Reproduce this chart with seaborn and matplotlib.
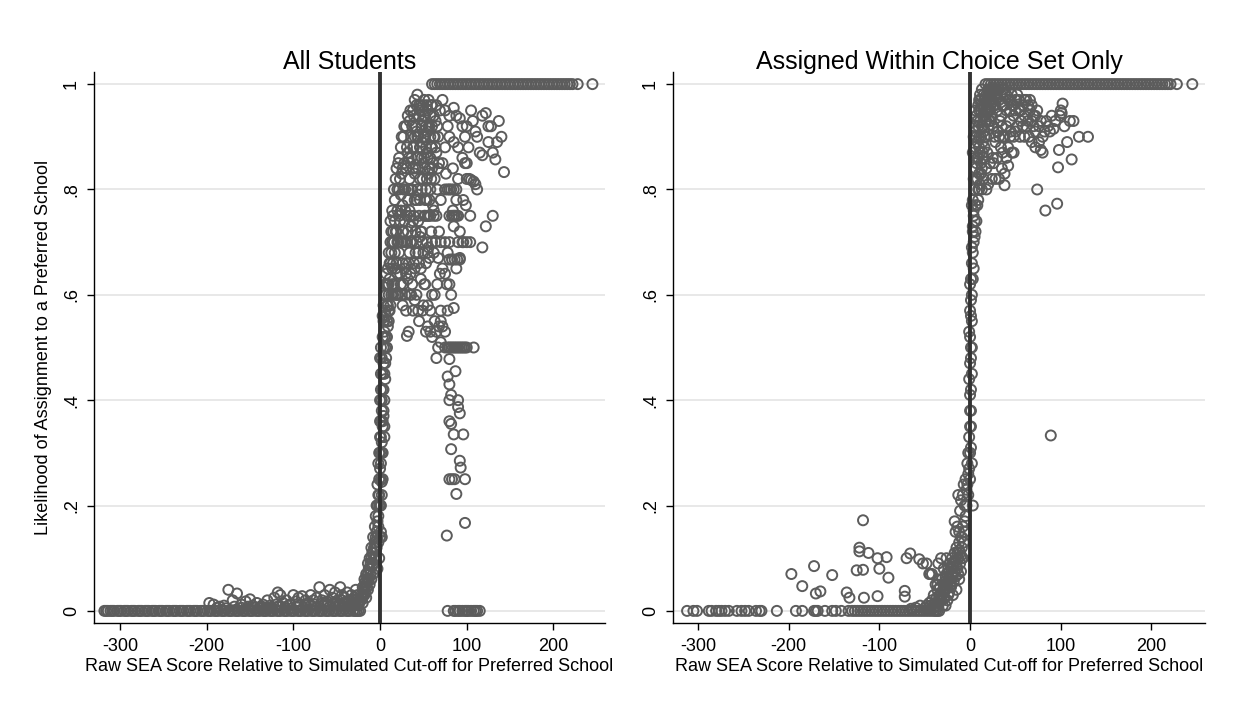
import matplotlib
matplotlib.use("Agg")
import matplotlib.pyplot as plt
import seaborn as sns
import pandas as pd

sns.set_style("white")
plt.rcParams["font.family"] = ["Liberation Sans", "DejaVu Sans"]
plt.rcParams["axes.unicode_minus"] = False
for k in ["text.color", "axes.labelcolor", "xtick.color", "ytick.color"]:
    plt.rcParams[k] = "black"

# ---------------- Left panel: All Students ----------------
L_zero_x = [-318, -314, -311, -307, -303, -299, -295, -291, -287, -283, -279, -275, -271, -267,
            -263, -259, -255, -251, -247, -243, -239, -235, -231, -227, -223, -219, -215, -211,
            -207, -203, -199, -195, -191, -187, -183, -179, -175, -171, -167, -163, -159, -155,
            -151, -147, -143, -139, -135, -131, -127, -123, -119, -115, -111, -107, -103, -99,
            -95, -91, -87, -83, -79, -75, -71, -67, -63, -59, -55, -51, -47, -43, -39, -35,
            -31, -27, -23,
            -316, -309, -301, -293, -285, -277, -269, -261, -253, -245, -237, -229, -221, -213,
            -205, -197, -189, -181, -173, -165, -157, -149, -141, -133, -125, -117, -109, -101,
            -93, -85, -77, -69, -61, -53, -45, -37, -29, -25]
L_low_x = [-197, -192, -185, -180, -175, -170, -165, -160, -155, -150, -147, -142, -138, -135,
           -130, -127, -122, -118, -115, -112, -108, -104, -100, -97, -94, -90, -86, -83, -80,
           -77, -73, -70, -67, -64, -61, -58, -55, -52, -49, -46, -44, -41, -38, -35, -33, -30,
           -28, -26, -24, -140, -132, -125, -118, -110, -102, -96, -88, -80, -72, -65, -58, -52,
           -46, -40, -36, -32, -28, -25, -22, -20, -18, -16,
           -30, -32, -34, -36, -38, -42, -44, -48, -54, -60, -66, -75, -85, -92, -106, -114,
           -120, -128, -136, -144, -152, -160, -168, -178, -188]
L_low_y = [0.015, 0.012, 0.008, 0.010, 0.040, 0.020, 0.033, 0.012, 0.018, 0.022, 0.010, 0.015,
           0.008, 0.012, 0.020, 0.010, 0.025, 0.035, 0.030, 0.015, 0.020, 0.012, 0.030, 0.018,
           0.025, 0.028, 0.020, 0.015, 0.030, 0.020, 0.025, 0.045, 0.020, 0.030, 0.018, 0.040,
           0.025, 0.035, 0.020, 0.045, 0.030, 0.025, 0.035, 0.020, 0.030, 0.025, 0.040, 0.030,
           0.020, 0.005, 0.004, 0.006, 0.008, 0.006, 0.005, 0.008, 0.006, 0.010, 0.008, 0.010,
           0.008, 0.012, 0.010, 0.012, 0.010, 0.015, 0.012, 0.015, 0.020, 0.015, 0.030, 0.025,
           0.015, 0.020, 0.012, 0.018, 0.008, 0.015, 0.020, 0.012, 0.015, 0.012, 0.015, 0.012,
           0.010, 0.012, 0.010, 0.008, 0.012, 0.006, 0.008, 0.006, 0.008, 0.006, 0.008, 0.005,
           0.006]
L_rise_x = [-20, -18, -16, -15, -14, -13, -12, -11, -10, -9, -8, -7, -6, -6, -5, -4, -4, -3, -3,
            -2, -2, -1, -1, 0, 0, 1, 1, 1, 2, 2, 2, 3, 3, 3, 4, 4, 4, 5, 5, 5, 6, 6, 7, 7, 8, 8, 9,
            9, 10, 10, 11, 11, 12, 12, 13, 13, 14, 14, 15, 15, -5, -3, -8, -10, -12, -14, 1, 2,
            0, 3, 2, 4, 5, -1, -2, 0, 0, 1, 6, 7, 8, 5, 3, 5,
            -25, -24, -23, -22, -21, -20, -19, -18, -17, -17, -16, -15, -14, -13, -12, -11, -10,
            -9, -8, -8, -7, -6, -5, -5, -4, -3, -3, -2, -2, -1, -1, 0, 0, 0, 1, 1, 1, 1, 2, 2, 2,
            3, 3, 3, 4, 4, 4, 5, 5, 6, 6, 7, 7, 8, 8, 9, 9, 10, 10]
L_rise_y = [0.03, 0.045, 0.05, 0.06, 0.07, 0.06, 0.08, 0.09, 0.10, 0.085, 0.11, 0.12, 0.13, 0.10,
            0.14, 0.15, 0.12, 0.17, 0.20, 0.18, 0.22, 0.25, 0.20, 0.27, 0.30, 0.25, 0.33, 0.36,
            0.30, 0.38, 0.40, 0.35, 0.42, 0.45, 0.38, 0.47, 0.50, 0.45, 0.52, 0.55, 0.50, 0.57,
            0.52, 0.60, 0.55, 0.62, 0.58, 0.65, 0.60, 0.68, 0.57, 0.63, 0.66, 0.70, 0.60, 0.72,
            0.65, 0.70, 0.60, 0.75, 0.10, 0.08, 0.07, 0.06, 0.05, 0.04, 0.15, 0.14, 0.20, 0.25,
            0.245, 0.37, 0.35, 0.10, 0.13, 0.40, 0.48, 0.50, 0.47, 0.48, 0.50, 0.33, 0.36, 0.53,
            0.010, 0.015, 0.020, 0.030, 0.025, 0.045, 0.040, 0.060, 0.035, 0.055, 0.070, 0.045,
            0.090, 0.080, 0.100, 0.070, 0.120, 0.110, 0.090, 0.140, 0.100, 0.160, 0.120, 0.180,
            0.200, 0.140, 0.240, 0.160, 0.280, 0.300, 0.220, 0.330, 0.360, 0.140, 0.200, 0.280,
            0.420, 0.450, 0.220, 0.320, 0.480, 0.300, 0.520, 0.560, 0.420, 0.550, 0.580, 0.400,
            0.600, 0.440, 0.620, 0.560, 0.640, 0.520, 0.580, 0.540, 0.620, 0.550, 0.570]
L_cloud_x = [16, 17, 18, 18, 19, 20, 20, 21, 22, 22, 23, 24, 24, 25, 25, 26, 26, 27, 27, 28, 28,
             29, 30, 30, 30, 31, 32, 32, 33, 33, 34, 34, 35, 35, 36, 36, 37, 37, 38, 38, 39, 39,
             40, 40, 41, 41, 42, 42, 43, 43, 44, 44, 45, 45, 46, 46, 47, 47, 48, 48, 49, 49, 50,
             50, 51, 51, 52, 52, 53, 53, 54, 54, 55, 55, 56, 56, 57, 57, 58, 58, 59, 59, 60, 60,
             61, 61, 62, 62, 63, 63, 64, 64, 65, 65, 66, 66, 67, 67, 68, 68, 69, 69, 70, 70,
             35, 40, 45, 50, 55, 60, 42, 48, 52, 58, 38, 44, 54, 62, 46, 56, 36, 32, 28, 24, 20,
             26, 30, 34, 40, 44, 50, 55, 60, 65, 58, 63, 47, 53, 31,
             10, 11, 12, 12, 13, 14, 14, 15, 15, 16, 16, 17, 17, 18, 18, 19, 19, 20, 20, 21, 21,
             22, 22, 23, 23, 24, 24, 25, 25, 26, 26, 27, 27, 28, 28, 29, 29, 30, 30, 31, 31, 32,
             32, 33, 33, 34, 34, 35, 35, 36, 36, 37, 37, 38, 38, 39, 39, 40, 40, 41, 41, 42, 42,
             43, 43, 44, 44, 45, 45, 46, 46, 47, 47, 48, 48, 49, 49, 50, 50, 51, 51, 52, 52, 53,
             53, 54, 54, 55, 55, 56, 56, 57, 57, 58, 58, 59, 59, 60, 60, 62, 64, 66, 63, 65, 67]
L_cloud_y = [0.70, 0.78, 0.65, 0.82, 0.72, 0.60, 0.76, 0.85, 0.68, 0.80, 0.74, 0.62, 0.88, 0.70,
             0.83, 0.58, 0.77, 0.90, 0.72, 0.65, 0.85, 0.80, 0.57, 0.70, 0.92, 0.75, 0.87, 0.63,
             0.80, 0.53, 0.68, 0.93, 0.75, 0.85, 0.60, 0.90, 0.70, 0.80, 0.57, 0.95, 0.75, 0.88,
             0.65, 0.83, 0.92, 0.72, 0.60, 0.78, 0.86, 0.98, 0.68, 0.90, 0.55, 0.75, 0.82, 0.95,
             0.63, 0.88, 0.72, 0.80, 0.93, 0.57, 0.68, 0.85, 0.75, 0.97, 0.62, 0.90, 0.80, 0.53,
             0.70, 0.87, 0.58, 0.95, 0.75, 0.83, 0.67, 0.92, 0.53, 0.80, 0.88, 0.72, 0.60, 0.96,
             0.77, 0.85, 0.68, 0.90, 0.55, 0.82, 0.93, 0.70, 0.75, 0.87, 0.62, 0.80, 0.90, 0.50,
             0.72, 0.85, 0.64, 0.95, 0.78, 0.55,
             0.95, 0.97, 0.96, 0.94, 0.91, 0.92, 0.91, 0.89, 0.84, 0.86, 0.84, 0.79, 0.78, 0.76,
             0.71, 0.69, 0.73, 0.78, 0.74, 0.79, 0.70, 0.66, 0.64, 0.60, 0.59, 0.57, 0.58, 0.54,
             0.52, 0.53, 0.57, 0.60, 0.65, 0.66, 0.522,
             0.62, 0.66, 0.58, 0.74, 0.68, 0.62, 0.76, 0.66, 0.72, 0.62, 0.80, 0.68, 0.74, 0.60,
             0.72, 0.66, 0.84, 0.64, 0.80, 0.70, 0.60, 0.75, 0.86, 0.64, 0.82, 0.70, 0.76, 0.60,
             0.90, 0.72, 0.84, 0.62, 0.80, 0.70, 0.92, 0.60, 0.76, 0.84, 0.66, 0.88, 0.70, 0.94,
             0.72, 0.66, 0.86, 0.76, 0.82, 0.64, 0.70, 0.80, 0.86, 0.92, 0.62, 0.74, 0.88, 0.66,
             0.94, 0.78, 0.90, 0.84, 0.68, 0.96, 0.70, 0.80, 0.90, 0.74, 0.84, 0.94, 0.66, 0.88,
             0.78, 0.96, 0.72, 0.92, 0.86, 0.82, 0.70, 0.90, 0.96, 0.86, 0.62, 0.94, 0.78, 0.88,
             0.92, 0.96, 0.82, 0.86, 0.68, 0.92, 0.97, 0.84, 0.78, 0.94, 0.90, 0.96, 0.82, 0.88,
             0.84, 0.94, 0.88, 0.92, 0.90, 0.96, 0.84]
L_streak_x = [52, 55, 58, 62, 80, 83, 85, 86, 88, 90, 60, 70, 75, 80, 90, 95, 100, 80, 83, 86,
              89, 92, 75, 78, 80, 82, 85, 88, 75, 78, 80, 82, 84, 86, 88, 90, 92, 94, 96, 98, 100,
              108, 100, 103, 105, 108, 110, 112]
L_streak_y = [0.75, 0.75, 0.75, 0.75, 0.75, 0.75, 0.75, 0.75, 0.75, 0.75, 0.70, 0.70, 0.70, 0.70,
              0.70, 0.70, 0.70, 0.667, 0.667, 0.667, 0.667, 0.667, 0.80, 0.80, 0.80, 0.80, 0.80,
              0.80, 0.50, 0.50, 0.50, 0.50, 0.50, 0.50, 0.50, 0.50, 0.50, 0.50, 0.50, 0.50, 0.50,
              0.50, 0.82, 0.82, 0.818, 0.815, 0.81, 0.80]
L_scat_x = [72, 75, 78, 80, 85, 88, 92, 95, 98, 100, 102, 105, 107, 110, 112, 118, 122, 125, 128,
            137, 135, 140, 130, 115, 118, 133, 125, 143, 100, 95, 90, 85, 80, 75, 72, 76, 84, 90,
            96, 99, 98, 88, 84, 92, 96, 104, 104, 118, 122, 130, 85, 78, 88, 92, 80, 75, 82, 85,
            78, 70, 72, 68, 75, 65, 70, 67, 72, 77,
            80, 78, 87, 80, 82, 80, 90, 92, 90, 80, 82, 85, 96, 82, 92, 93, 80, 83, 86, 98, 88,
            98, 77]
L_scat_y = [0.97, 0.95, 0.92, 0.94, 0.955, 0.94, 0.935, 0.92, 0.90, 0.92, 0.88, 0.95, 0.93, 0.91,
            0.90, 0.94, 0.945, 0.92, 0.92, 0.93, 0.89, 0.90, 0.87, 0.87, 0.865, 0.857, 0.89,
            0.833, 0.85, 0.86, 0.88, 0.89, 0.90, 0.88, 0.85, 0.83, 0.84, 0.82, 0.78, 0.77, 0.85,
            0.78, 0.76, 0.72, 0.70, 0.75, 0.70, 0.69, 0.73, 0.75, 0.73, 0.68, 0.65, 0.67, 0.62,
            0.64, 0.60, 0.575, 0.57, 0.57, 0.54, 0.54, 0.53, 0.48, 0.51, 0.67, 0.65, 0.62,
            0.478, 0.445, 0.455, 0.43, 0.41, 0.40, 0.40, 0.375, 0.387, 0.36, 0.355, 0.335, 0.335,
            0.307, 0.285, 0.272, 0.25, 0.25, 0.25, 0.25, 0.222, 0.167, 0.143]
L_zero_right_x = [78, 85, 87, 90, 92, 95, 98, 100, 102, 105, 108, 110, 112, 115]
L_one_x = [60, 63, 66, 69, 72, 75, 78, 81, 84, 87, 90, 93, 96, 99, 102, 105, 108, 111, 114, 117,
           120, 123, 126, 129, 132, 135, 138, 141, 144, 147, 150, 153, 156, 159, 162, 165, 168,
           171, 174, 177, 180, 183, 186, 189, 192, 195, 198, 201, 204, 207, 210, 213, 216, 219,
           222, 228, 245]

# ---------------- Right panel: Assigned Within Choice Set Only ----------------
R_zero_x = [-312, -305, -301, -288, -285, -280, -277, -274, -270, -266, -257, -252, -248, -244,
            -236, -232, -230, -213, -192, -185, -172, -170, -168, -160, -152, -148, -142, -134,
            -130, -127, -124, -121, -118, -115, -112, -109, -106, -103, -100, -97, -94, -91, -88,
            -85, -82, -79, -76, -73, -70, -67, -64, -61, -58, -55, -52, -49, -46, -43, -40,
            -38, -36, -34]
R_out_x = [-197, -185, -172, -170, -165, -152, -136, -133, -125, -122, -122, -118, -118, -117,
           -112, -102, -102, -100, -92, -90, -72, -72, -70, -66, -56, -52, -48, -45]
R_out_y = [0.070, 0.047, 0.085, 0.033, 0.037, 0.068, 0.035, 0.025, 0.077, 0.120, 0.113, 0.172,
           0.078, 0.025, 0.110, 0.100, 0.028, 0.080, 0.102, 0.063, 0.038, 0.027, 0.100, 0.109,
           0.098, 0.090, 0.090, 0.070]
R_band_x = [-40, -38, -36, -35, -33, -32, -30, -30, -28, -28, -27, -26, -25, -25, -24, -23, -22,
            -22, -21, -20, -20, -19, -18, -18, -17, -16, -16, -15, -15, -14, -13, -12, -12, -11,
            -10, -10, -9, -8, -42, -44, -38, -35, -32, -48, -45, -50, -55, -60, -65, -36, -34,
            -29, -26,
            -46, -44, -42, -40, -39, -37, -36, -34, -33, -31, -31, -29, -29, -27, -27, -26, -24,
            -24, -23, -21, -21, -19, -19, -17, -17, -15, -14, -13, -12, -11, -10, -9, -8, -7,
            -6, -5, -4, -3, -2, -1, 0, 0, 1, 1, 0, 2, 1, 0, 2, 1, 0, 2, 3, 4, 2, 6]
R_band_y = [0.005, 0.010, 0.015, 0.008, 0.020, 0.030, 0.010, 0.040, 0.025, 0.055, 0.040, 0.070,
            0.020, 0.050, 0.080, 0.035, 0.060, 0.090, 0.045, 0.100, 0.070, 0.030, 0.055, 0.085,
            0.110, 0.065, 0.095, 0.040, 0.120, 0.080, 0.100, 0.060, 0.115, 0.090, 0.105, 0.075,
            0.120, 0.100, 0.070, 0.070, 0.050, 0.090, 0.100, 0.010, 0.015, 0.005, 0.010, 0.006,
            0.004, 0.040, 0.060, 0.080, 0.100,
            0.005, 0.010, 0.020, 0.030, 0.015, 0.025, 0.050, 0.030, 0.045, 0.060, 0.020, 0.050,
            0.035, 0.065, 0.010, 0.045, 0.060, 0.030, 0.075, 0.080, 0.050, 0.090, 0.065, 0.075,
            0.095, 0.085, 0.110, 0.070, 0.130, 0.110, 0.140, 0.100, 0.160, 0.130, 0.150, 0.180,
            0.200, 0.240, 0.220, 0.270, 0.300, 0.250, 0.350, 0.380, 0.410, 0.450, 0.480, 0.520,
            0.550, 0.590, 0.620, 0.690, 0.720, 0.750, 0.770, 0.720]
R_rise_x = [-17, -16, -14, -13, -12, -11, -10, -9, -8, -7, -6, -6, -5, -4, -3, -2, -2, -1, 0, 1,
            2, 3, 0, 1, -1, 0, 1, 2, -1, 1, 0, 2, 1, 3, 2, 4, 3, 4, 5, 3, 5, 7, 4, 6, 3, 8, 5, 7,
            9, 6, 10, 8, 12, 10, 14, 12, 16, 14, 18, 16, 20, 18, 22, 20, 24, 26, 22, 28, 3, 4, 5,
            6, 7, 8, 9, 10, 11, 12, 13, 15, 17, 11, 13, 15, 18, 20, 24, 28, 32, 38, 19, 25, 30,
            35, 40, 44, 42, 48, 36, 31, 27, 23]
R_rise_y = [0.17, 0.15, 0.16, 0.22, 0.15, 0.19, 0.21, 0.14, 0.22, 0.24, 0.17, 0.20, 0.25, 0.23,
            0.28, 0.26, 0.30, 0.33, 0.35, 0.31, 0.28, 0.20, 0.38, 0.42, 0.44, 0.47, 0.50, 0.50,
            0.53, 0.56, 0.57, 0.60, 0.63, 0.63, 0.66, 0.65, 0.68, 0.70, 0.71, 0.73, 0.74, 0.74,
            0.76, 0.77, 0.78, 0.77, 0.80, 0.82, 0.80, 0.84, 0.83, 0.86, 0.85, 0.88, 0.87, 0.90,
            0.88, 0.92, 0.90, 0.94, 0.92, 0.96, 0.95, 0.98, 0.97, 0.99, 0.99, 0.98, 0.87, 0.90,
            0.92, 0.95, 0.90, 0.93, 0.96, 0.95, 0.98, 0.97, 0.99, 0.98, 1.00, 0.81, 0.80, 0.82,
            0.80, 0.81, 0.82, 0.82, 0.82, 0.808, 0.87, 0.86, 0.86, 0.84, 0.86, 0.90, 0.88, 0.87,
            0.90, 0.91, 0.90, 0.93]
R_top_x = [30, 32, 34, 36, 38, 40, 42, 44, 46, 48, 50, 52, 54, 56, 58, 60, 62, 64, 66, 68, 70,
           72, 74, 76, 78, 80, 82, 84, 86, 88, 90, 92, 94, 50, 55, 60, 65, 70, 45, 48, 40, 58,
           62, 66, 35, 33, 68, 72, 76, 78, 80, 46, 42, 38,
           4, 5, 6, 6, 7, 7, 8, 8, 9, 9, 10, 10, 11, 11, 12, 12, 13, 13, 14, 14, 15, 15, 16, 16,
           17, 17, 18, 18, 19, 19, 20, 20, 21, 21, 22, 23, 23, 24, 24, 25, 26, 27, 28, 29, 30,
           32, 34, 36, 38, 40, 44, 46, 50, 52, 54, 56, 60, 64, 68, 72, 44, 48, 26, 28, 30, 32,
           34, 36, 38, 18, 22, 26, 15, 9, 10, 13]
R_top_y = [0.95, 0.97, 0.94, 0.96, 0.98, 0.95, 0.97, 0.93, 0.96, 0.94, 0.97, 0.92, 0.95, 0.93,
           0.96, 0.94, 0.92, 0.96, 0.95, 0.93, 0.94, 0.91, 0.95, 0.92, 0.93, 0.90, 0.91, 0.93,
           0.92, 0.91, 0.94, 0.915, 0.93, 0.91, 0.90, 0.90, 0.90, 0.92, 0.91, 0.90, 0.92, 0.92,
           0.97, 0.97, 0.92, 0.93, 0.89, 0.88, 0.89, 0.875, 0.87, 0.87, 0.845, 0.83,
           0.82, 0.86, 0.88, 0.91, 0.85, 0.94, 0.89, 0.82, 0.92, 0.86, 0.90, 0.97, 0.93, 0.87,
           0.95, 0.83, 0.92, 0.96, 0.94, 0.89, 0.96, 0.91, 0.97, 0.90, 0.95, 0.93, 0.98, 0.93,
           0.97, 0.95, 0.95, 0.99, 0.97, 0.93, 0.97, 0.98, 0.96, 0.99, 0.94, 0.97, 0.96, 0.98,
           0.96, 0.99, 0.98, 0.99, 0.98, 0.99, 0.96, 0.98, 0.97, 0.98, 0.95, 0.98, 0.97, 0.95,
           0.97, 0.93, 0.96, 0.94, 0.95, 0.96, 0.92, 0.89, 0.91, 0.90, 0.88, 0.87, 0.90, 0.84,
           0.85, 0.85, 0.86, 0.78, 0.80, 0.84]
R_scat_x = [74, 83, 89, 96, 97, 98, 107, 112, 120, 130, 110, 114, 100, 102, 104, 99, 101]
R_scat_y = [0.80, 0.76, 0.333, 0.773, 0.842, 0.875, 0.89, 0.857, 0.90, 0.90, 0.93, 0.93, 0.95,
            0.963, 0.92, 0.94, 0.945]
R_one_x = [20, 23, 26, 29, 32, 35, 38, 41, 44, 47, 50, 53, 56, 59, 62, 65, 68, 71, 74, 77, 80,
           83, 86, 89, 92, 95, 98, 101, 104, 107, 110, 113, 116, 119, 122, 125, 128, 131, 134,
           137, 140, 143, 146, 149, 152, 155, 158, 161, 164, 167, 170, 173, 176, 179, 182, 185,
           188, 191, 194, 197, 200, 203, 206, 209, 212, 215, 218, 221, 228, 245]

Y_TICKS = [0, 0.2, 0.4, 0.6, 0.8, 1]
Y_TICK_LABELS = ["0", ".2", ".4", ".6", ".8", "1"]
X_TICKS = [-300, -200, -100, 0, 100, 200]
TITLES = ["All Students", "Assigned Within Choice Set Only"]
XLABEL = "Raw SEA Score Relative to Simulated Cut-off for Preferred School"
YLABEL = "Likelihood of Assignment to a Preferred School"


def frame(xs_list, ys_list):
    xs, ys = [], []
    for x, y in zip(xs_list, ys_list):
        assert len(x) == len(y), (len(x), len(y))
        xs += list(x)
        ys += list(y)
    return pd.DataFrame({"x": xs, "y": ys})


left = frame(
    [L_zero_x, L_low_x, L_rise_x, L_cloud_x, L_streak_x, L_scat_x, L_zero_right_x, L_one_x],
    [[0] * len(L_zero_x), L_low_y, L_rise_y, L_cloud_y, L_streak_y, L_scat_y,
     [0] * len(L_zero_right_x), [1] * len(L_one_x)])
right = frame(
    [R_zero_x, R_out_x, R_band_x, R_rise_x, R_top_x, R_scat_x, R_one_x],
    [[0] * len(R_zero_x), R_out_y, R_band_y, R_rise_y, R_top_y, R_scat_y, [1] * len(R_one_x)])

fig = plt.figure(figsize=(12.36, 7.04), dpi=100)
ax1 = fig.add_axes([94 / 1236, 81 / 704, 511 / 1236, 551 / 704])
ax2 = fig.add_axes([673 / 1236, 81 / 704, 532 / 1236, 551 / 704])

mc = "#5c5c5c"
for ax, df, title, xlim in [(ax1, left, TITLES[0], (-330, 259.5)),
                            (ax2, right, TITLES[1], (-327.5, 259))]:
    for yt in Y_TICKS:
        ax.axhline(yt, color="#e6e6e6", lw=1.3, zorder=0)
    sns.scatterplot(data=df, x="x", y="y", ax=ax, marker="o", s=52,
                    facecolors="none", edgecolor=mc, linewidth=1.4, zorder=2)
    ax.axvline(0, color="#333333", lw=2.8, zorder=3)
    ax.set_xlim(*xlim)
    ax.set_ylim(-0.023, 1.023)
    ax.set_yticks(Y_TICKS)
    ax.set_yticklabels(Y_TICK_LABELS, rotation=90, va="center")
    ax.set_xticks(X_TICKS)
    ax.tick_params(axis="both", direction="out", length=5, width=1, color="black",
                   labelsize=13, bottom=True, left=True)
    ax.tick_params(axis="x", pad=6)
    ax.tick_params(axis="y", pad=5)
    for s in ["top", "right"]:
        ax.spines[s].set_visible(False)
    for s in ["left", "bottom"]:
        ax.spines[s].set_color("black")
        ax.spines[s].set_linewidth(1.0)
    ax.set_title(title, fontsize=18, pad=2)
    ax.set_xlabel(XLABEL, fontsize=13, labelpad=2)
    ax.set_ylabel("")

ax1.set_ylabel(YLABEL, fontsize=13, labelpad=8)

fig.savefig("out.png", dpi=100, facecolor="white")
